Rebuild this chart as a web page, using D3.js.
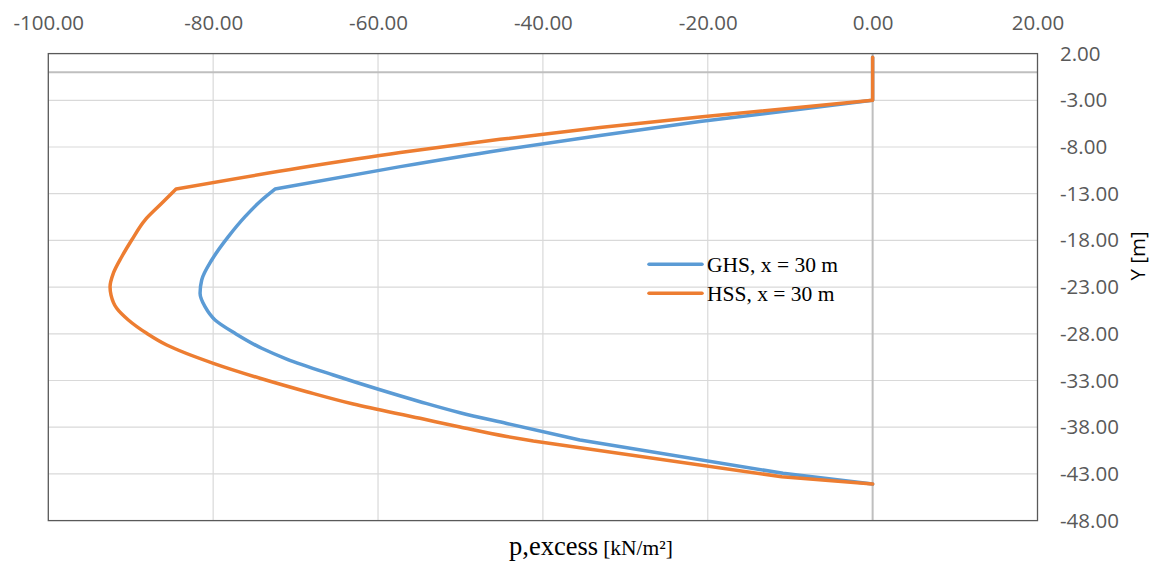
<!DOCTYPE html>
<html>
<head>
<meta charset="utf-8">
<script src="https://cdn.jsdelivr.net/npm/d3@7"></script>
<style>
  html, body { margin: 0; padding: 0; background: #fff; }
  svg { display: block; }
</style>
</head>
<body>
<svg id="chart" width="1156" height="566"></svg>
<script>
// Excess pore pressure profiles at x = 30 m
const xTicks = [-100, -80, -60, -40, -20, 0, 20];
const yTicks = [2, -3, -8, -13, -18, -23, -28, -33, -38, -43, -48];
const seriesNames = ["GHS, x = 30 m", "HSS, x = 30 m"];
const seriesColors = ["#5B9BD5", "#ED7D31"];

// GHS: excess pore pressure p [kN/m²] and depth Y [m]
const ghsP = [0, 0, -20.96, -33.07, -45.2, -57.3, -72.5, -74.11, -76.13, -78.16, -80.17, -81.39, -81.59, -80.99, -79.77, -77.35, -74.11, -71.08, -65.42, -59.96, -54.9, -50.05, -44.39, -35.5, -10.87, 0];
const ghsY = [1.6, -3.0, -5.28, -6.76, -8.34, -10.1, -12.5, -13.67, -15.46, -17.6, -20.1, -22.24, -23.66, -25.1, -26.52, -27.95, -29.55, -30.7, -32.41, -33.94, -35.27, -36.45, -37.6, -39.37, -42.94, -44.08];
// indices where the GHS profile changes slope abruptly
const ghsBreaks = [1, 6, 23, 24];

// HSS: excess pore pressure p [kN/m²] and depth Y [m]
const hssP = [0, 0, -20.96, -33.07, -45.2, -57.3, -69.4, -84.5, -86.24, -88.27, -89.88, -91.09, -92.11, -92.51, -92.39, -91.7, -90.29, -88.06, -85.63, -79.98, -74.32, -68.65, -63.0, -54.9, -50.05, -44.39, -41.16, -11.03, 0];
const hssY = [1.6, -3.0, -4.79, -5.92, -7.18, -8.6, -10.23, -12.5, -14.03, -15.82, -17.96, -19.75, -21.52, -22.96, -23.85, -25.27, -26.52, -27.95, -29.2, -31.16, -32.76, -34.2, -35.52, -37.05, -37.98, -39.0, -39.48, -43.3, -44.08];
const hssBreaks = [1, 7, 26, 27];

const plot = { left: 48.3, right: 1037.5, top: 53.6, bottom: 520.6 };

const svg = d3.select("#chart");
const x = d3.scaleLinear().domain([-100, 20]).range([plot.left, plot.right]);
const y = d3.scaleLinear().domain([2, -48]).range([plot.top, plot.bottom]);

// Gridlines
const grid = svg.append("g");
grid.selectAll("line.vg").data(xTicks.filter(d => d !== 0 && d !== -100 && d !== 20))
  .join("line").attr("class", "vg")
  .attr("x1", d => x(d)).attr("x2", d => x(d))
  .attr("y1", plot.top).attr("y2", plot.bottom)
  .attr("stroke", "#d9d9d9").attr("stroke-width", 1.2);
grid.selectAll("line.hg").data(yTicks.filter(d => d !== 2 && d !== -48))
  .join("line").attr("class", "hg")
  .attr("x1", plot.left).attr("x2", plot.right)
  .attr("y1", d => y(d)).attr("y2", d => y(d))
  .attr("stroke", "#d9d9d9").attr("stroke-width", 1.2);

// Zero lines
svg.append("line")
  .attr("x1", plot.left).attr("x2", plot.right)
  .attr("y1", y(0)).attr("y2", y(0))
  .attr("stroke", "#bfbfbf").attr("stroke-width", 2);
svg.append("line")
  .attr("x1", x(0)).attr("x2", x(0))
  .attr("y1", plot.top).attr("y2", plot.bottom)
  .attr("stroke", "#bfbfbf").attr("stroke-width", 2);

// Plot frame
svg.append("rect")
  .attr("x", plot.left).attr("y", plot.top)
  .attr("width", plot.right - plot.left).attr("height", plot.bottom - plot.top)
  .attr("fill", "none").attr("stroke", "#595959").attr("stroke-width", 1.3);

// Axes: values on top and on the right
const fmt = d => d.toFixed(2);
const xAxis = svg.append("g")
  .attr("transform", `translate(0,${plot.top})`)
  .call(d3.axisTop(x).tickValues(xTicks).tickFormat(fmt).tickSize(0).tickPadding(23.5));
const yAxis = svg.append("g")
  .attr("transform", `translate(${plot.right},0)`)
  .call(d3.axisRight(y).tickValues(yTicks).tickFormat(fmt).tickSize(0).tickPadding(22.5));
[xAxis, yAxis].forEach(a => {
  a.select(".domain").remove();
  a.selectAll("text")
    .attr("fill", "#595959")
    .style("font-family", "'Open Sans', sans-serif")
    .style("font-size", "20.5px");
});

// Profiles: smooth between slope breaks, sharp corners at the breaks
const smooth = d3.line().x(d => x(d[0])).y(d => y(d[1])).curve(d3.curveMonotoneY);
function profilePath(ps, ys, breaks) {
  const pts = ps.map((p, i) => [p, ys[i]]);
  const cuts = [0, ...breaks, pts.length - 1];
  let d = "";
  for (let k = 0; k < cuts.length - 1; k++) {
    const seg = smooth(pts.slice(cuts[k], cuts[k + 1] + 1));
    d += k === 0 ? seg : "L" + seg.slice(1);
  }
  return d;
}
[[ghsP, ghsY, ghsBreaks], [hssP, hssY, hssBreaks]].forEach(([ps, ys, br], i) => {
  svg.append("path")
    .attr("d", profilePath(ps, ys, br))
    .attr("fill", "none")
    .attr("stroke", seriesColors[i])
    .attr("stroke-width", 3.5)
    .attr("stroke-linejoin", "round")
    .attr("stroke-linecap", "round");
});

// Legend
const legend = svg.append("g");
seriesNames.forEach((name, i) => {
  const ly = 264.3 + i * 29;
  legend.append("line")
    .attr("x1", 649).attr("x2", 702).attr("y1", ly).attr("y2", ly)
    .attr("stroke", seriesColors[i]).attr("stroke-width", 3.5)
    .attr("stroke-linecap", "round");
  legend.append("text")
    .attr("x", 707).attr("y", ly + 7.3)
    .attr("fill", "#000")
    .style("font-family", "'Liberation Serif', serif")
    .style("font-size", "21.5px")
    .text(name);
});

// Axis titles
const xt = svg.append("text")
  .attr("x", 591).attr("y", 555)
  .attr("text-anchor", "middle")
  .attr("fill", "#000")
  .style("font-family", "'Liberation Serif', serif");
xt.append("tspan").style("font-size", "26.5px").text("p,excess");
xt.append("tspan").attr("dx", 5).style("font-size", "21.5px").text("[kN/m²]");

svg.append("text")
  .attr("transform", "translate(1145,256) rotate(-90)")
  .attr("text-anchor", "middle")
  .attr("fill", "#000")
  .style("font-family", "'Open Sans', sans-serif")
  .style("font-size", "20.5px")
  .text("Y [m]");
</script>
</body>
</html>
